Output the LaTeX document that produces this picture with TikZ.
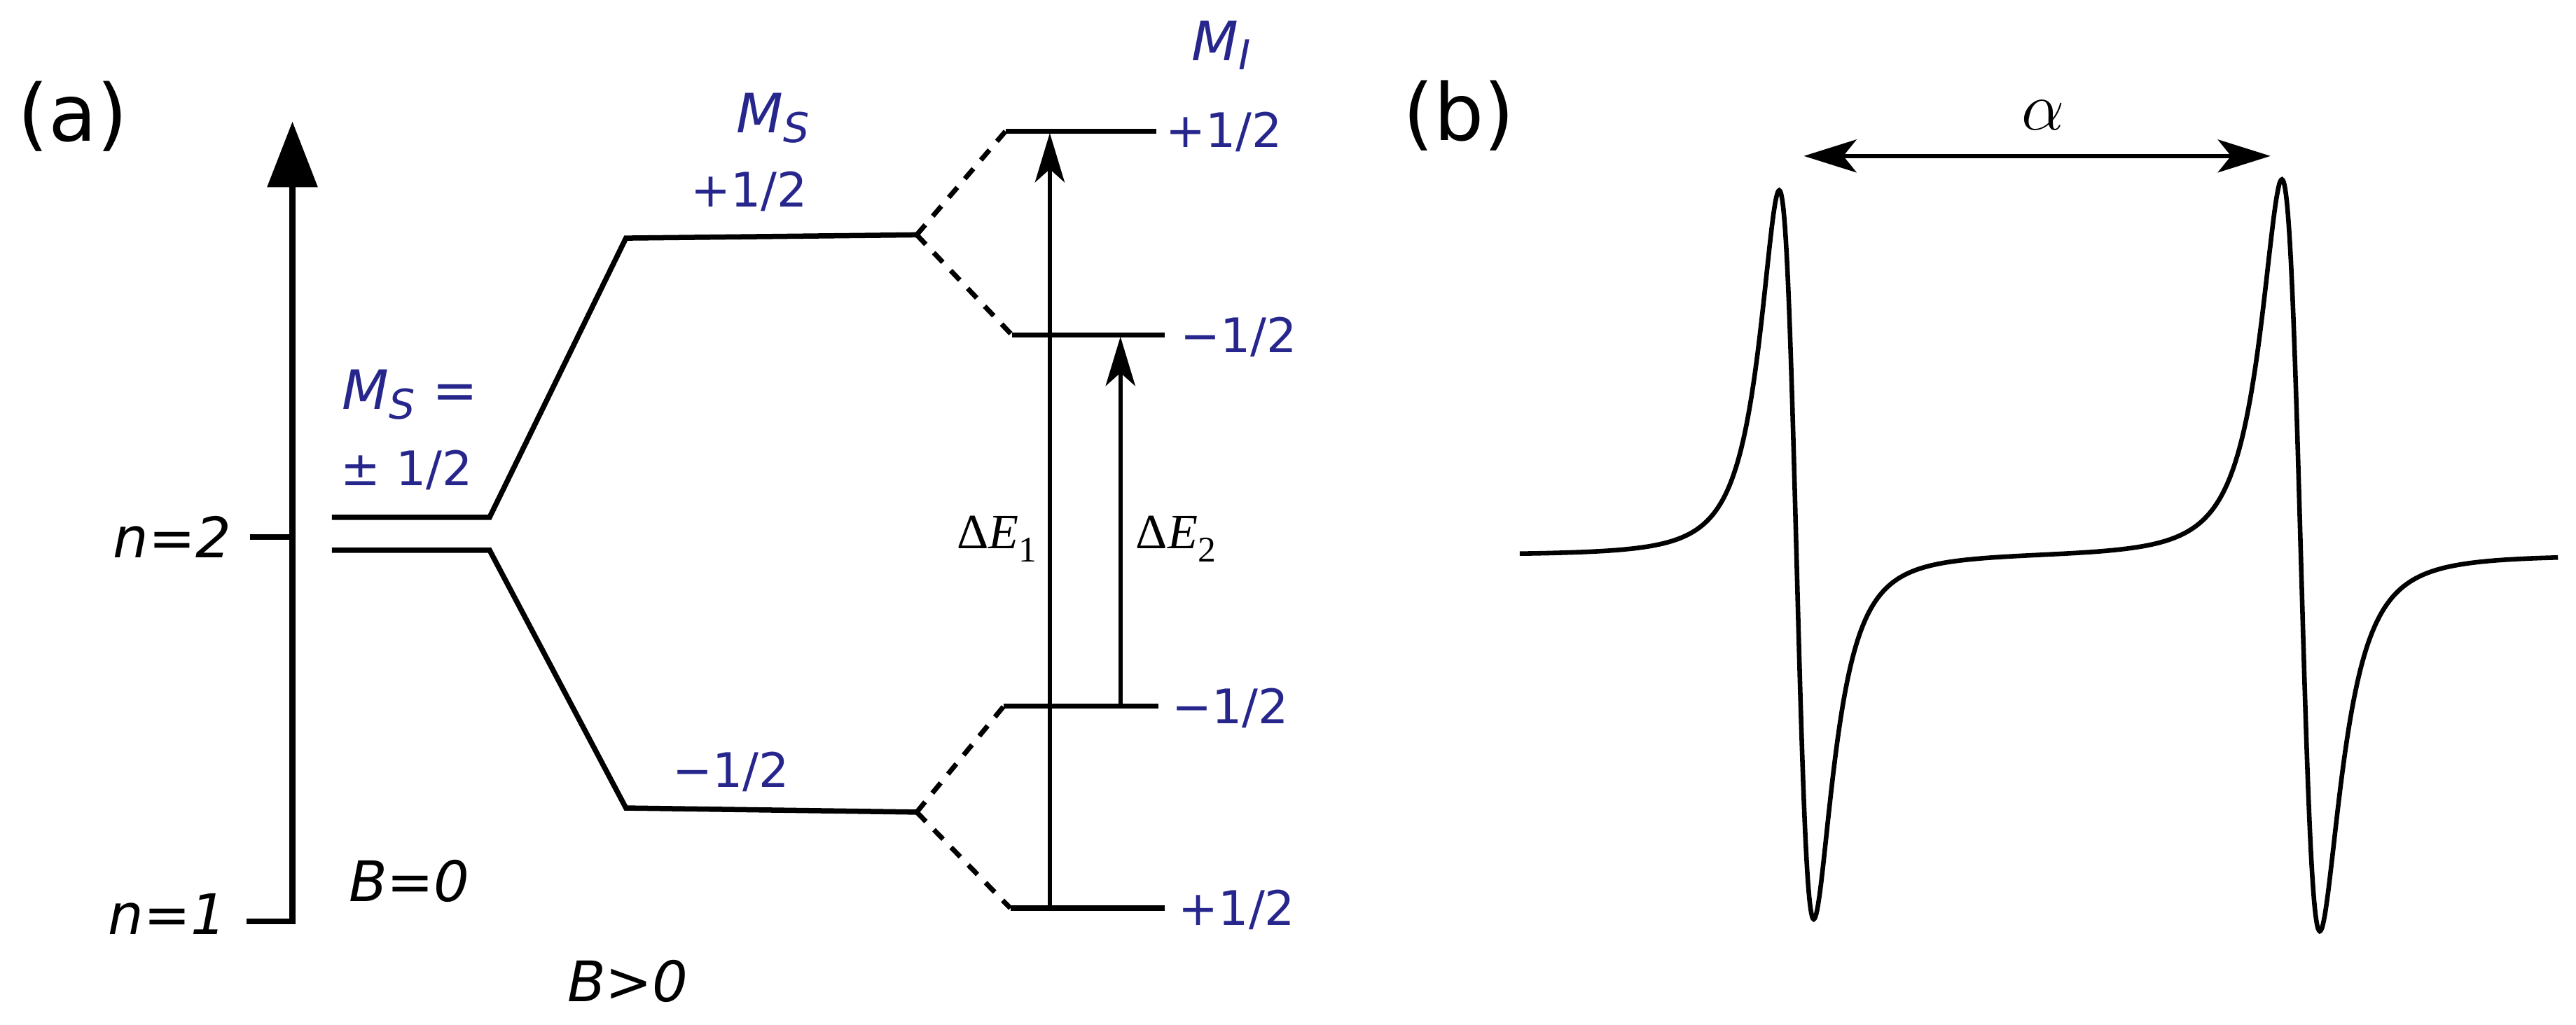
\documentclass[tikz,border=0pt]{standalone}
\usepackage{fontspec}
\setmainfont{DejaVu Sans}
\newfontfamily\libserif{Liberation Serif}
\usetikzlibrary{arrows.meta}
\definecolor{lblue}{RGB}{38,38,140}
\newcommand\myfA{\fontsize{24}{28}\selectfont}
\newcommand\myfB{\fontsize{17}{20}\selectfont\itshape}
\newcommand\myfC{\fontsize{14.5}{17}\selectfont}
\newcommand\myfM{\fontsize{16.5}{20}\selectfont\itshape}
\newcommand\myfS{\fontsize{12.5}{15}\selectfont\itshape}
\newcommand\mysub[1]{\raisebox{-2.8pt}{\myfS #1}}
\newcommand\mydelta[1]{{\libserif\fontsize{15}{17}\selectfont Δ\textit{E}\raisebox{-4pt}{\fontsize{11}{12}\selectfont #1}}}
\begin{document}
\begin{tikzpicture}[x=0.5pt,y=-0.5pt,
  declare function={ls(\t)=\t/(1+\t*\t)/(1+\t*\t);},
  lvl/.style={line width=1.6pt},
  dsh/.style={line width=1.5pt, dash pattern=on 4pt off 3.5pt},
  trans/.style={line width=1.2pt, -{Stealth[length=15pt,width=9pt,inset=4pt]}},
  bl/.style={inner sep=0pt, text=lblue, font=\myfC, anchor=base west},
  bm/.style={inner sep=0pt, text=lblue, font=\myfM, anchor=base west},
  it/.style={inner sep=0pt, font=\myfB},
  pan/.style={inner sep=0pt, font=\myfA}]
\useasboundingbox[fill=white] (0,0) rectangle (1568,624);

% panel labels
\node[pan] (pa) at (44.5,71) {(a)};
\node[pan] (pb) at (888,70.5) {(b)};

% energy axis
\coordinate (n1t) at (150,561);
\coordinate (axb) at (178,561);
\coordinate (axt) at (178,74);
\coordinate (n2t) at (152,327);
\coordinate (n2a) at (178,327);
\draw[line width=1.8pt, -{Triangle[length=20pt,width=15pt]}] (n1t) -- (axb) -- (axt);
\draw[line width=1.6pt] (n2t) -- (n2a);
\node[it, anchor=base east] (ln2) at (141,339.5) {n=2};
\node[it, anchor=base east] (ln1) at (138,569) {n=1};

% electron levels
\coordinate (da1) at (202,315); \coordinate (db1) at (298,315);
\coordinate (da2) at (202,335); \coordinate (db2) at (298,335);
\coordinate (up1) at (381,145); \coordinate (up2) at (558,143);
\coordinate (lo1) at (381,492); \coordinate (lo2) at (558,494.5);
\draw[lvl] (da1) -- (db1) -- (up1) -- (up2);
\draw[lvl] (da2) -- (db2) -- (lo1) -- (lo2);

% hyperfine levels
\coordinate (h1a) at (612,80);  \coordinate (h1b) at (704,80);
\coordinate (h2a) at (616,204); \coordinate (h2b) at (709,204);
\coordinate (h3a) at (611,430); \coordinate (h3b) at (705,430);
\coordinate (h4a) at (615,553); \coordinate (h4b) at (709,553);
\draw[lvl] (h1a) -- (h1b);
\draw[lvl] (h2a) -- (h2b);
\draw[lvl] (h3a) -- (h3b);
\draw[lvl] (h4a) -- (h4b);
\draw[dsh] (up2) -- (h1a);
\draw[dsh] (up2) -- (h2a);
\draw[dsh] (lo2) -- (h3a);
\draw[dsh] (lo2) -- (h4a);

% transitions
\coordinate (t1s) at (639,553); \coordinate (t1e) at (639,81);
\coordinate (t2s) at (682,430); \coordinate (t2e) at (682,205);
\draw[trans] (t1s) -- (t1e);
\draw[trans] (t2s) -- (t2e);
\node[inner sep=0pt, anchor=base west] (de1) at (582,334) {\mydelta{1}};
\node[inner sep=0pt, anchor=base west] (de2) at (691,334) {\mydelta{2}};

% blue labels
\node[bm] (ms0) at (208,249.4) {M\mysub{S} \upshape=};
\node[bl] (ms0v) at (207,295.6) {± 1/2};
\node[bm] (ms) at (448,81) {M\mysub{S}};
\node[bl] (msp) at (420,126) {+1/2};
\node[bl] (msm) at (409,479.6) {−1/2};
\node[bm] (mi) at (725,37) {M\mysub{I}};
\node[bl] (l1) at (709,89.8) {+1/2};
\node[bl] (l2) at (718,214.5) {−1/2};
\node[bl] (l3) at (713,440.5) {−1/2};
\node[bl] (l4) at (717,563.5) {+1/2};

% field labels
\node[it, anchor=base west] (b0) at (212,548.7) {B=0};
\node[it, anchor=base west] (b1) at (345,610) {B>0};

% spectrum (b)
\draw[line width=1.4pt] plot[domain=925:1557, samples=1265]
  (\x, {338 + 683.5*ls((\x-1093.5)/18.2) + 705*ls((\x-1400.5)/20)});
\coordinate (al) at (1098,95);
\coordinate (ar) at (1382,95);
\draw[line width=1.3pt, {Stealth[length=16pt,width=10pt,inset=4pt]}-{Stealth[length=16pt,width=10pt,inset=4pt]}] (al) -- (ar);
\node[inner sep=0pt, font=\fontsize{22}{24}\selectfont] (alpha) at (1243.5,70) {$\alpha$};
\end{tikzpicture}
\end{document}
